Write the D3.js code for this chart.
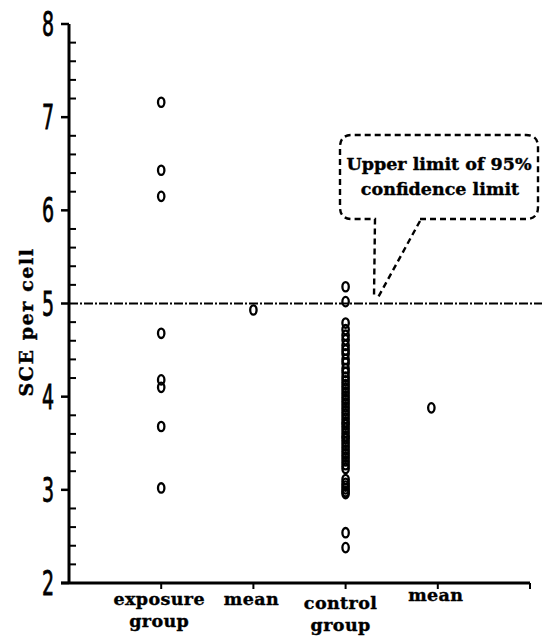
<!DOCTYPE html>
<html>
<head>
<meta charset="utf-8">
<script src="https://cdn.jsdelivr.net/npm/d3@7"></script>
<style>
  body { margin:0; background:#fff; }
  svg { display:block; }
  .lbl { font-family:"DejaVu Serif", serif; font-weight:bold; fill:#000; }
  .num { font-family:"Liberation Sans Narrow","DejaVu Sans Condensed", sans-serif; fill:#000; }
</style>
</head>
<body>
<script>
// categories along the x axis (position 1..4)
var categories = [["exposure","group"],["mean"],["control","group"],["mean"]];
var yTicks = [2,3,4,5,6,7,8];
var limit = 5.0;

// SCE per cell
var exposure = [7.16, 6.43, 6.15, 4.68, 4.18, 4.10, 3.68, 3.02];
var control = [5.18, 5.02, 4.79, 4.72, 4.66, 4.61, 4.55, 4.50, 4.46, 4.40, 4.36,
  4.30, 4.26, 4.21, 4.17, 4.13, 4.09, 4.05, 4.01, 3.97, 3.93, 3.89, 3.85, 3.81,
  3.77, 3.73, 3.70, 3.66, 3.62, 3.58, 3.55, 3.51, 3.47, 3.43, 3.39, 3.35, 3.31,
  3.27, 3.23, 3.11, 3.07, 3.04, 3.01, 2.98, 2.96, 2.54, 2.38];
var means = [{pos:2.0, v:4.93}, {pos:3.93, v:3.88}];

var W = 542, H = 637;
var svg = d3.select("body").append("svg").attr("width",W).attr("height",H);

var x = d3.scaleLinear().domain([0,5]).range([69,530]);
var y = d3.scaleLinear().domain([2,8]).range([583,24]);

// y axis: major ticks outside, minor ticks inside
var g = svg.append("g");
g.append("line").attr("x1",x(0)).attr("x2",x(0)).attr("y1",y(8)).attr("y2",y(2))
  .attr("stroke","#000").attr("stroke-width",3);
g.selectAll(".maj").data(yTicks).enter().append("line")
  .attr("x1",x(0)-8).attr("x2",x(0)).attr("y1",function(d){return y(d);}).attr("y2",function(d){return y(d);})
  .attr("stroke","#000").attr("stroke-width",2.5);
var minor = d3.range(2,8,0.2).filter(function(d){ return Math.abs(d-Math.round(d))>0.01; });
g.selectAll(".min").data(minor).enter().append("line")
  .attr("x1",x(0)).attr("x2",x(0)+7).attr("y1",function(d){return y(d);}).attr("y2",function(d){return y(d);})
  .attr("stroke","#000").attr("stroke-width",2);
// narrow tall digits
g.selectAll(".yl").data(yTicks).enter().append("text")
  .attr("class","num")
  .attr("transform",function(d){return "translate("+(x(0)-15)+","+(y(d)+12)+") scale(0.62,1)";})
  .attr("text-anchor","end").attr("font-size",34)
  .attr("stroke","#000").attr("stroke-width",0.8)
  .text(function(d){return d;});

// x axis
svg.append("line").attr("x1",x(0)-8).attr("x2",x(5)).attr("y1",y(2)).attr("y2",y(2))
  .attr("stroke","#000").attr("stroke-width",3);
svg.selectAll(".xt").data([1,2,3,4,5]).enter().append("line")
  .attr("x1",function(d){return x(d);}).attr("x2",function(d){return x(d);})
  .attr("y1",y(2)).attr("y2",y(2)+6)
  .attr("stroke","#000").attr("stroke-width",2);

var labelY = [[605,627],[605],[609,631],[601]];
categories.forEach(function(c,i){
  var t = svg.append("text").attr("class","lbl").attr("font-size",17.5)
    .attr("text-anchor","middle").attr("letter-spacing",0.4)
    .attr("stroke","#000").attr("stroke-width",0.4);
  c.forEach(function(s,j){
    t.append("tspan").attr("x",x(i+1)-2+(i==2?-3:0)).attr("y",labelY[i][j]).text(s);
  });
});

// y label
svg.append("text").attr("class","lbl").attr("font-size",19)
  .attr("text-anchor","middle").attr("letter-spacing",1.6)
  .attr("stroke","#000").attr("stroke-width",0.4)
  .attr("transform","translate(33,322) rotate(-90)")
  .text("SCE per cell");

// upper limit line
svg.append("line").attr("x1",x(0)).attr("x2",W).attr("y1",y(limit)).attr("y2",y(limit))
  .attr("stroke","#000").attr("stroke-width",2.2).attr("stroke-dasharray","9,2,2,2");

// callout
var bx0 = 340, bx1 = 538, by0 = 135, by1 = 219, r = 12;
var p = d3.path();
p.moveTo(420, by1);
p.lineTo(bx1-r, by1); p.quadraticCurveTo(bx1, by1, bx1, by1-r);
p.lineTo(bx1, by0+r); p.quadraticCurveTo(bx1, by0, bx1-r, by0);
p.lineTo(bx0+r, by0); p.quadraticCurveTo(bx0, by0, bx0, by0+r);
p.lineTo(bx0, by1-r); p.quadraticCurveTo(bx0, by1, bx0+r, by1);
p.lineTo(375, by1);
p.lineTo(374, y(limit)-6);
p.moveTo(420, by1+2);
p.lineTo(378, y(limit)-6);
svg.append("path").attr("d",p.toString()).attr("fill","none")
  .attr("stroke","#000").attr("stroke-width",2.4).attr("stroke-dasharray","6,4");
var ct = svg.append("text").attr("class","lbl").attr("font-size",17.5).attr("text-anchor","middle")
  .attr("stroke","#000").attr("stroke-width",0.4);
ct.append("tspan").attr("x",(bx0+bx1)/2).attr("y",170).text("Upper limit of 95%");
ct.append("tspan").attr("x",(bx0+bx1)/2+1).attr("y",195).text("confidence limit");

// points
function dots(data, pos){
  svg.append("g").selectAll("ellipse").data(data).enter().append("ellipse")
    .attr("cx",function(d){return x(pos(d));})
    .attr("cy",function(d){return y(d.v!==undefined?d.v:d);})
    .attr("rx",3.2).attr("ry",4.7)
    .attr("fill","none").attr("stroke","#000").attr("stroke-width",2.3);
}
dots(exposure, function(){return 1;});
dots(control, function(){return 3;});
dots(means, function(d){return d.pos;});
</script>
</body>
</html>
